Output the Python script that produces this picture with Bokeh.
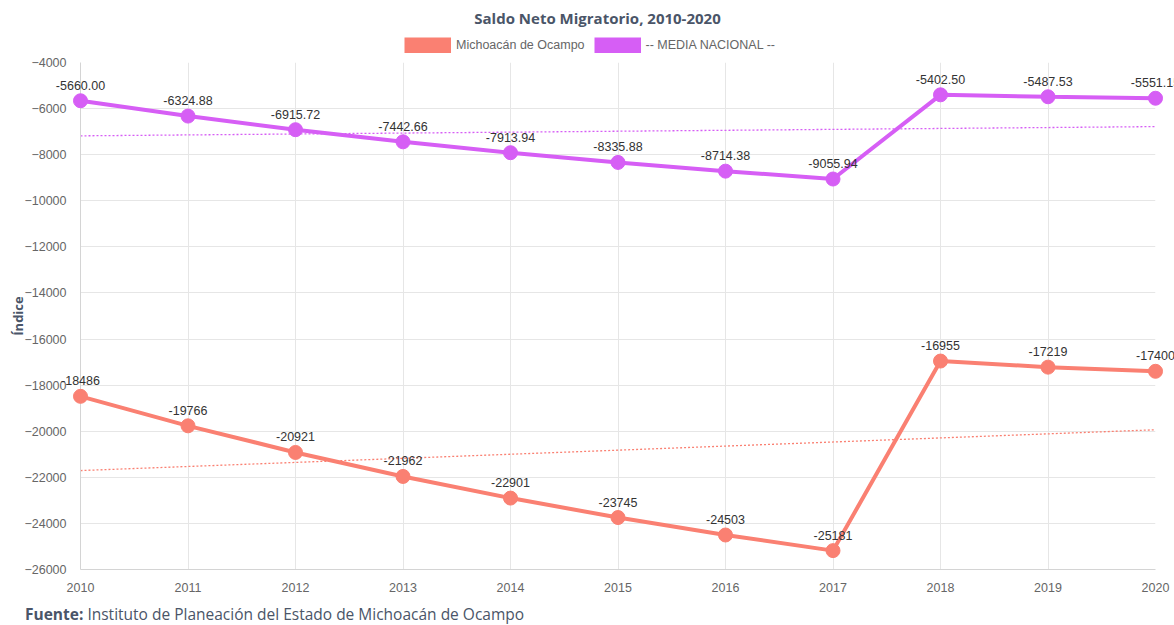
from bokeh.plotting import figure
from bokeh.models import (ColumnDataSource, Legend, LegendItem, Div, Label,
                          SingleIntervalTicker, FixedTicker)
from bokeh.core.properties import value
from bokeh.layouts import column
from bokeh.embed import file_html
from bokeh.resources import INLINE
import numpy as np

years = [2010, 2011, 2012, 2013, 2014, 2015, 2016, 2017, 2018, 2019, 2020]
michoacan = [-18486, -19766, -20921, -21962, -22901, -23745, -24503, -25181, -16955, -17219, -17400]
media = [-5660.00, -6324.88, -6915.72, -7442.66, -7913.94, -8335.88, -8714.38, -9055.94, -5402.50, -5487.53, -5551.15]
y_ticks = list(range(-26000, -3999, 2000))

title_text = "Saldo Neto Migratorio, 2010-2020"
series_names = ["Michoacán de Ocampo", "-- MEDIA NACIONAL --"]
source_text = "Instituto de Planeación del Estado de Michoacán de Ocampo"

C_MICH = "#fa8072"
C_MEDIA = "#d65ef5"
TXT = "#4a5568"
W = 1174
FS = "12.5px"

# ---- header: title + legend ----
head = figure(width=W, height=54, x_range=(0, 1), y_range=(0, 1),
              x_axis_type=None, y_axis_type=None, output_backend="svg",
              toolbar_location=None, min_border=0)
head.outline_line_color = None
head.xgrid.visible = False
head.ygrid.visible = False
head.add_layout(Label(x=517, y=37, x_units="screen", y_units="screen", text=title_text,
                      text_align="center", text_baseline="middle", text_font="Open Sans",
                      text_font_style="bold", text_font_size="15px", text_color=TXT))
nan = np.array([np.nan])
sw_m = head.line(x=nan, y=nan, line_color=C_MICH, line_width=16, line_cap="butt")
sw_n = head.line(x=nan, y=nan, line_color=C_MEDIA, line_width=16, line_cap="butt")
legend = Legend(items=[LegendItem(label=series_names[0], renderers=[sw_m]),
                       LegendItem(label=series_names[1], renderers=[sw_n])],
                orientation="horizontal", location=(324, 1),
                glyph_width=47, glyph_height=16, label_standoff=5, spacing=9,
                padding=0, margin=0, border_line_color=None, background_fill_alpha=0,
                label_text_font="Liberation Sans", label_text_font_size=FS,
                label_text_color="#666666", label_height=16)
head.add_layout(legend, "center")

# ---- main chart ----
p = figure(width=W, height=540, x_range=(2010, 2020), y_range=(-26000, -4000),
           output_backend="svg", toolbar_location=None,
           min_border_left=80, min_border_right=19, min_border_top=8, min_border_bottom=22)
p.outline_line_color = None

p.xaxis.ticker = SingleIntervalTicker(interval=1)
p.yaxis.ticker = FixedTicker(ticks=y_ticks)
for ax in (p.xaxis[0], p.yaxis[0]):
    ax.major_tick_line_color = None
    ax.minor_tick_line_color = None
    ax.axis_line_color = "#d4d4d4"
    ax.major_label_text_color = "#666666"
    ax.major_label_text_font = "Liberation Sans"
    ax.major_label_text_font_size = FS
p.xaxis.major_label_standoff = 7
p.yaxis.major_label_standoff = 8
p.yaxis.axis_label = "Índice"
p.yaxis.axis_label_text_font = "Open Sans"
p.yaxis.axis_label_text_font_style = "bold"
p.yaxis.axis_label_text_font_size = "13px"
p.yaxis.axis_label_text_color = TXT
p.yaxis.axis_label_standoff = -6
p.xgrid.grid_line_color = "#e6e6e6"
p.ygrid.grid_line_color = "#e6e6e6"

# trend lines (least squares fit of each series)
yr = np.array(years, dtype=float)
for vals, col in ((michoacan, C_MICH), (media, C_MEDIA)):
    k, b = np.polyfit(yr, np.array(vals, dtype=float), 1)
    p.line(x=[years[0], years[-1]], y=[k * years[0] + b, k * years[-1] + b],
           line_color=col, line_width=1.3, line_dash="2 2")

src_m = ColumnDataSource(dict(x=years, y=michoacan, lbl=[f"{v:.0f}" for v in michoacan]))
src_n = ColumnDataSource(dict(x=years, y=media, lbl=[f"{v:.2f}" for v in media]))

for src, col in ((src_m, C_MICH), (src_n, C_MEDIA)):
    p.line("x", "y", source=src, line_color=col, line_width=4)
    p.scatter("x", "y", source=src, size=14, fill_color=col, line_color=col, level="overlay")
    p.text("x", "y", text="lbl", source=src, text_align="center", level="overlay",
           text_baseline="bottom", y_offset=-11, text_font=value("Liberation Sans"),
           text_font_size=FS, text_color="#333333")

# ---- footer ----
footer = Div(text=('<div style="padding-top:12px;line-height:16px;white-space:nowrap">'
                   f'<span style="font-weight:bold">Fuente:</span> {source_text}</div>'),
             width=1100, height=31, margin=(0, 0, 0, 25),
             styles={"font-family": "Open Sans", "font-size": "15.5px", "color": TXT})

layout = column(head, p, footer, spacing=0)
open("out.html", "w").write(file_html(layout, INLINE))
